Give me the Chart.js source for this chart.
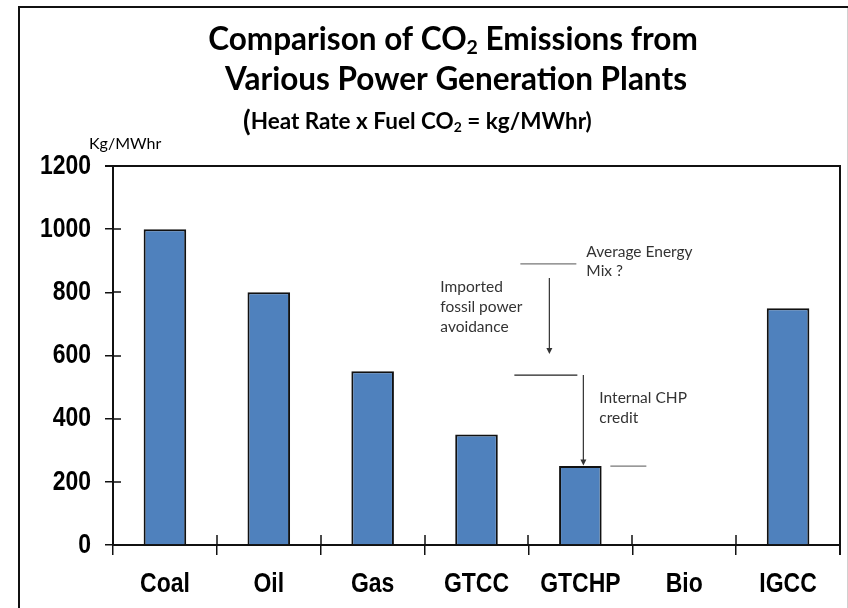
<!DOCTYPE html>
<html>
<head>
<meta charset="utf-8">
<script src="https://cdn.jsdelivr.net/npm/chart.js@4/dist/chart.umd.min.js"></script>
<style>
  html, body { margin: 0; padding: 0; background: #fff; }
  #wrap { width: 848px; height: 608px; }
</style>
</head>
<body>
<div id="wrap"><canvas id="co2Chart" width="848" height="608"></canvas></div>
<script>
// Dados do gráfico
const categories = ['Coal', 'Oil', 'Gas', 'GTCC', 'GTCHP', 'Bio', 'IGCC'];
const emissions = [1000, 800, 550, 350, 250, 0, 750];
const yTicks = [0, 200, 400, 600, 800, 1000, 1200];

// Níveis das anotações (kg/MWhr)
const avgMixLevel = 890;
const importedLevel = 538;
const chpLevel = 250;
const arrow1Range = [845, 605];
const arrow2Range = [538, 252];

const tickFont = '"Liberation Sans", Arial, sans-serif';
const titleFont = 'Lato, "Open Sans", sans-serif';
const noteFont = 'Lato, "Open Sans", sans-serif';

// desenha texto com subscritos
function drawRich(ctx, parts, x, y, size, align) {
    let total = 0;
    parts.forEach(p => {
        ctx.font = 'bold ' + (p.sub ? size * 0.62 : (p.size || size)) + 'px ' + titleFont;
        p.w = ctx.measureText(p.t).width;
        total += p.w;
    });
    let cx = align === 'left' ? x : x - total / 2;
    parts.forEach(p => {
        ctx.font = 'bold ' + (p.sub ? size * 0.62 : (p.size || size)) + 'px ' + titleFont;
        ctx.fillText(p.t, cx, p.sub ? y + size * 0.25 : y);
        cx += p.w;
    });
}

// texto estreito (imitação de Arial Narrow)
function narrowText(ctx, text, x, y, align) {
    ctx.save();
    ctx.font = 'bold 28px ' + tickFont;
    const w = ctx.measureText(text).width * 0.82;
    let left = align === 'right' ? x - w : x - w / 2;
    ctx.translate(left, y);
    ctx.scale(0.82, 1);
    ctx.textAlign = 'left';
    ctx.textBaseline = 'middle';
    ctx.fillStyle = '#000';
    ctx.fillText(text, 0, 0);
    ctx.restore();
}

const decorPlugin = {
    id: 'decor',
    beforeDraw(chart) {
        const ctx = chart.ctx;
        ctx.save();
        ctx.fillStyle = '#fff';
        ctx.fillRect(0, 0, chart.width, chart.height);
        // moldura externa
        ctx.strokeStyle = '#111';
        ctx.lineWidth = 2;
        ctx.beginPath();
        ctx.moveTo(19, 608); ctx.lineTo(19, 7); ctx.lineTo(848, 7);
        ctx.stroke();
        ctx.strokeStyle = '#d0d0d0';
        ctx.lineWidth = 1;
        ctx.beginPath();
        ctx.moveTo(847.5, 8); ctx.lineTo(847.5, 608);
        ctx.stroke();
        ctx.restore();
    },
    afterDraw(chart) {
        const ctx = chart.ctx;
        const area = chart.chartArea;
        const x = chart.scales.x;
        const y = chart.scales.y;
        ctx.save();

        // títulos
        ctx.fillStyle = '#000';
        ctx.textBaseline = 'middle';
        drawRich(ctx, [{ t: 'Comparison of CO' }, { t: '2', sub: true }, { t: ' Emissions from' }], 453, 40, 31.5);
        drawRich(ctx, [{ t: 'Various Power Generation Plants' }], 456, 80, 31.5);
        drawRich(ctx, [{ t: '(', size: 28 }, { t: 'Heat Rate x Fuel CO' }, { t: '2', sub: true }, { t: ' = kg/MWhr)' }], 243, 122, 22.5, 'left');

        ctx.font = '16px ' + noteFont;
        ctx.textAlign = 'left';
        ctx.fillText('Kg/MWhr', 89, 144);

        // rótulos dos eixos
        yTicks.forEach(v => narrowText(ctx, String(v), 91, y.getPixelForValue(v), 'right'));
        categories.forEach((c, i) => narrowText(ctx, c, x.getPixelForValue(i), 584, 'center'));

        // moldura do gráfico e ticks internos
        ctx.strokeStyle = '#111';
        ctx.lineWidth = 2;
        ctx.beginPath();
        ctx.moveTo(area.left - 8, area.top); ctx.lineTo(area.right, area.top);
        ctx.lineTo(area.right, area.bottom + 10);
        ctx.stroke();
        ctx.lineWidth = 1.5;
        ctx.beginPath();
        yTicks.forEach(v => {
            const py = Math.round(y.getPixelForValue(v));
            ctx.moveTo(area.left, py); ctx.lineTo(area.left + 8, py);
        });
        for (let i = 0; i <= categories.length; i++) {
            const px = Math.round(area.left + i * (area.right - area.left) / categories.length);
            ctx.moveTo(px, area.bottom); ctx.lineTo(px, area.bottom - 10);
        }
        ctx.stroke();

        // anotações em torno de GTCHP
        const cx = x.getPixelForValue(4);
        const yAvg = y.getPixelForValue(avgMixLevel);
        const yImp = y.getPixelForValue(importedLevel);
        const yChp = y.getPixelForValue(chpLevel);

        ctx.lineWidth = 1.2;
        ctx.strokeStyle = '#777';
        ctx.beginPath();
        ctx.moveTo(cx - 60, yAvg); ctx.lineTo(cx - 4, yAvg);
        ctx.stroke();
        ctx.strokeStyle = '#222';
        ctx.beginPath();
        ctx.moveTo(cx - 66, yImp); ctx.lineTo(cx - 3, yImp);
        ctx.stroke();
        ctx.strokeStyle = '#777';
        ctx.beginPath();
        ctx.moveTo(cx + 30, yChp); ctx.lineTo(cx + 66, yChp);
        ctx.stroke();

        const arrow = (ax, v0, v1) => {
            const y0 = y.getPixelForValue(v0);
            const y1 = y.getPixelForValue(v1);
            ctx.strokeStyle = '#333';
            ctx.fillStyle = '#333';
            ctx.lineWidth = 1.2;
            ctx.beginPath();
            ctx.moveTo(ax, y0); ctx.lineTo(ax, y1 - 5);
            ctx.stroke();
            ctx.beginPath();
            ctx.moveTo(ax - 3, y1 - 6); ctx.lineTo(ax + 3, y1 - 6); ctx.lineTo(ax, y1);
            ctx.closePath();
            ctx.fill();
        };
        arrow(cx - 31, arrow1Range[0], arrow1Range[1]);
        arrow(cx + 3, arrow2Range[0], arrow2Range[1]);

        ctx.fillStyle = '#333';
        ctx.font = '15.5px ' + noteFont;
        ctx.textAlign = 'left';
        ctx.fillText('Average Energy', cx + 6, yAvg - 12);
        ctx.fillText('Mix ?', cx + 6, yAvg + 7);
        ctx.fillText('Imported', cx - 140, yAvg + 23);
        ctx.fillText('fossil power', cx - 140, yAvg + 43);
        ctx.fillText('avoidance', cx - 140, yAvg + 63);
        ctx.fillText('Internal CHP', cx + 19, yImp + 23);
        ctx.fillText('credit', cx + 19, yImp + 43);

        ctx.restore();
    }
};

const ctxCo2 = document.getElementById('co2Chart').getContext('2d');
new Chart(ctxCo2, {
    type: 'bar',
    data: {
        labels: categories,
        datasets: [{
            label: 'CO2 Emissions',
            data: emissions,
            backgroundColor: '#4F81BD',
            borderColor: '#111',
            borderWidth: 2,
            borderSkipped: 'bottom',
            barPercentage: 0.41,
            categoryPercentage: 1
        }]
    },
    options: {
        responsive: false,
        animation: false,
        layout: { padding: { left: 0, top: 166, right: 8, bottom: 0 } },
        plugins: { legend: { display: false }, tooltip: { enabled: false }, title: { display: false } },
        scales: {
            x: {
                grid: { display: true, drawOnChartArea: false, offset: true, color: '#111', lineWidth: 1.5, tickLength: 10 },
                border: { display: true, color: '#111', width: 2 },
                ticks: { display: false },
                afterFit(scale) { scale.height = 63; }
            },
            y: {
                min: 0,
                max: 1200,
                afterBuildTicks(scale) { scale.ticks = yTicks.map(v => ({ value: v })); },
                grid: { display: true, drawOnChartArea: false, color: '#111', lineWidth: 1.5, tickLength: 8 },
                border: { display: true, color: '#111', width: 2 },
                ticks: { display: false },
                afterFit(scale) { scale.width = 113; }
            }
        }
    },
    plugins: [decorPlugin]
});
</script>
</body>
</html>
